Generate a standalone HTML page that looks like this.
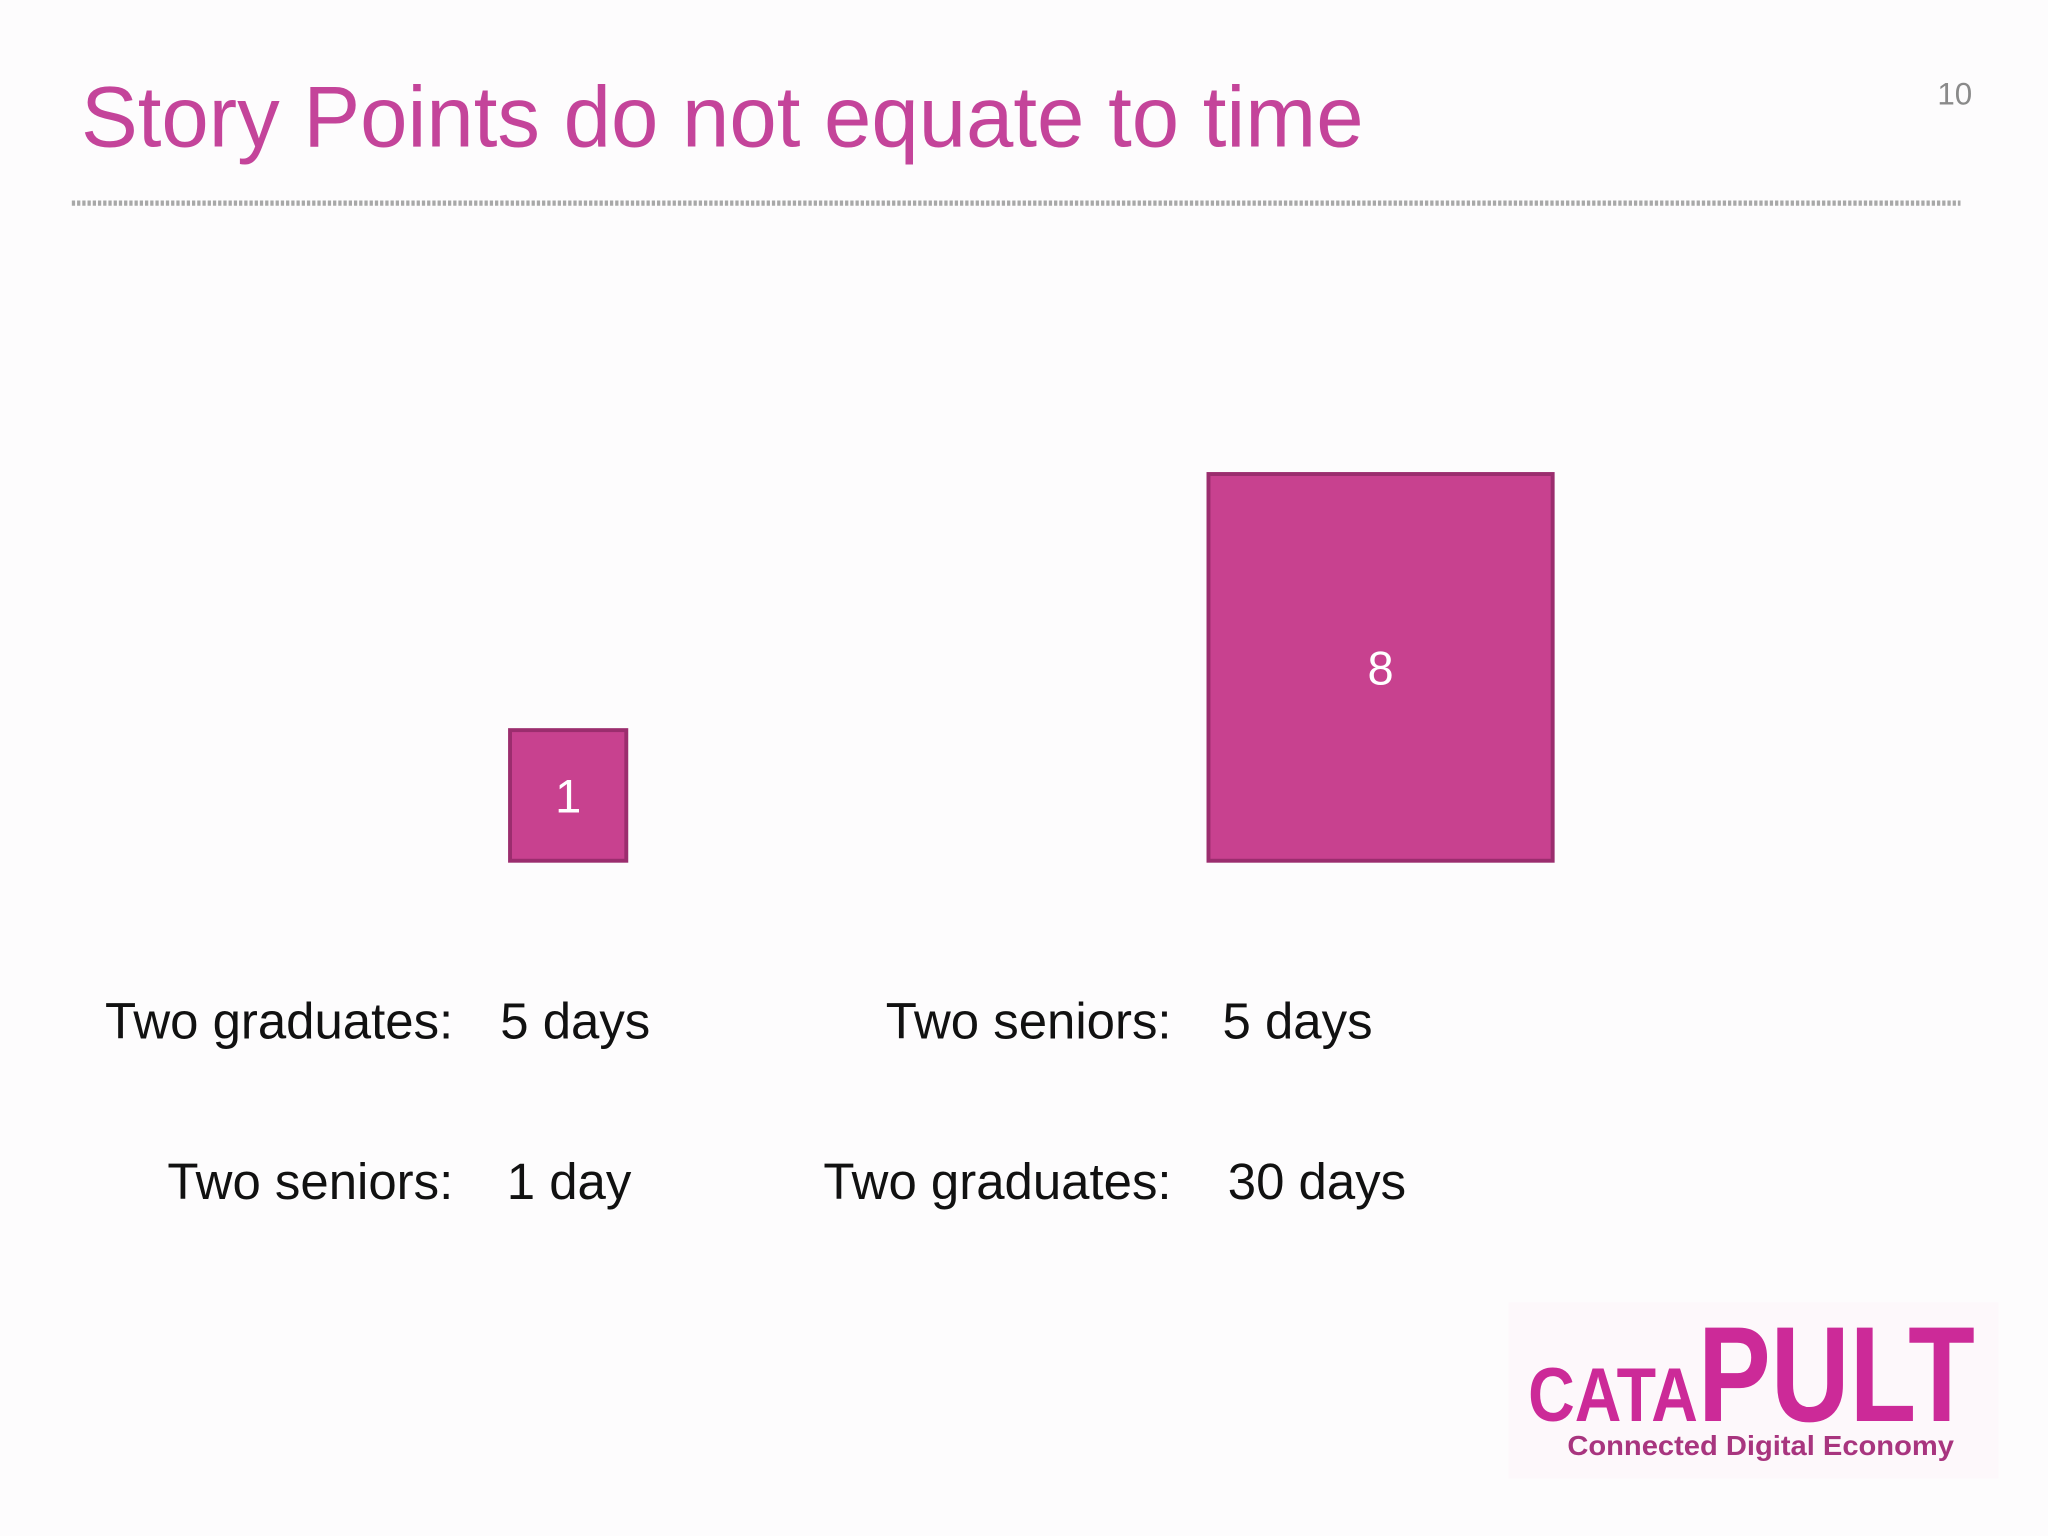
<!DOCTYPE html>
<html><head><meta charset="utf-8"><style>
html,body{margin:0;padding:0;background:#fdfcfd;}
svg{display:block;font-family:"Liberation Sans",Arial,sans-serif;}
</style></head><body>
<svg width="2048" height="1536" viewBox="0 0 1568 1176">
<rect x="0" y="0" width="1568" height="1176" fill="#fdfcfd"/>
<text x="62" y="112" font-size="66" fill="#c4449a" textLength="982" lengthAdjust="spacingAndGlyphs">Story Points do not equate to time</text>
<text x="1510" y="80" font-size="24" fill="#8a8a8a" text-anchor="end">10</text>
<line x1="55" y1="155.5" x2="1501" y2="155.5" stroke="#a8a8a8" stroke-width="4" stroke-dasharray="2.5 1.5"/>
<g id="boxes"></g>
<g font-size="39" fill="#111">
<text x="347" y="795" text-anchor="end">Two graduates:</text>
<text x="383" y="795">5 days</text>
<text x="347" y="918" text-anchor="end">Two seniors:</text>
<text x="388" y="918">1 day</text>
<text x="897" y="795" text-anchor="end">Two seniors:</text>
<text x="936" y="795">5 days</text>
<text x="897" y="918" text-anchor="end">Two graduates:</text>
<text x="940" y="918">30 days</text>
</g>
<g>
<rect x="1155" y="997" width="375" height="135" fill="#fdf8fb"/>
<text x="1170" y="1088" font-size="58" font-weight="bold" fill="#cc2a98" textLength="130" lengthAdjust="spacingAndGlyphs">CATA</text>
<text x="1300" y="1088" font-size="104" font-weight="bold" fill="#cc2a98" textLength="212" lengthAdjust="spacingAndGlyphs">PULT</text>
<text x="1200" y="1114" font-size="21" font-weight="bold" fill="#a8357f" textLength="296" lengthAdjust="spacingAndGlyphs">Connected Digital Economy</text>
</g>
</svg>
<script>
const points = [1, 8];
const labels = ["1", "8"];
const centersX = [435, 1057];
const baseW = 89, baseH = 100, bottomY = 659;
const g = document.getElementById('boxes');
const NS = 'http://www.w3.org/2000/svg';
points.forEach(function(p, i){
  const s = Math.pow(p, 0.522);
  const w = baseW * s, h = baseH * s;
  const r = document.createElementNS(NS, 'rect');
  r.setAttribute('x', centersX[i] - w/2);
  r.setAttribute('y', bottomY - h);
  r.setAttribute('width', w);
  r.setAttribute('height', h);
  r.setAttribute('fill', '#c8418f');
  r.setAttribute('stroke', '#9b2d6e');
  r.setAttribute('stroke-width', '3');
  
  
  g.appendChild(r);
  const t = document.createElementNS(NS, 'text');
  t.setAttribute('x', centersX[i]);
  t.setAttribute('y', bottomY - h/2 + 13);
  t.setAttribute('font-size', '36');
  t.setAttribute('fill', '#ffffff');
  t.setAttribute('text-anchor', 'middle');
  t.textContent = labels[i];
  
  
  g.appendChild(t);
});
</script>
</body></html>
